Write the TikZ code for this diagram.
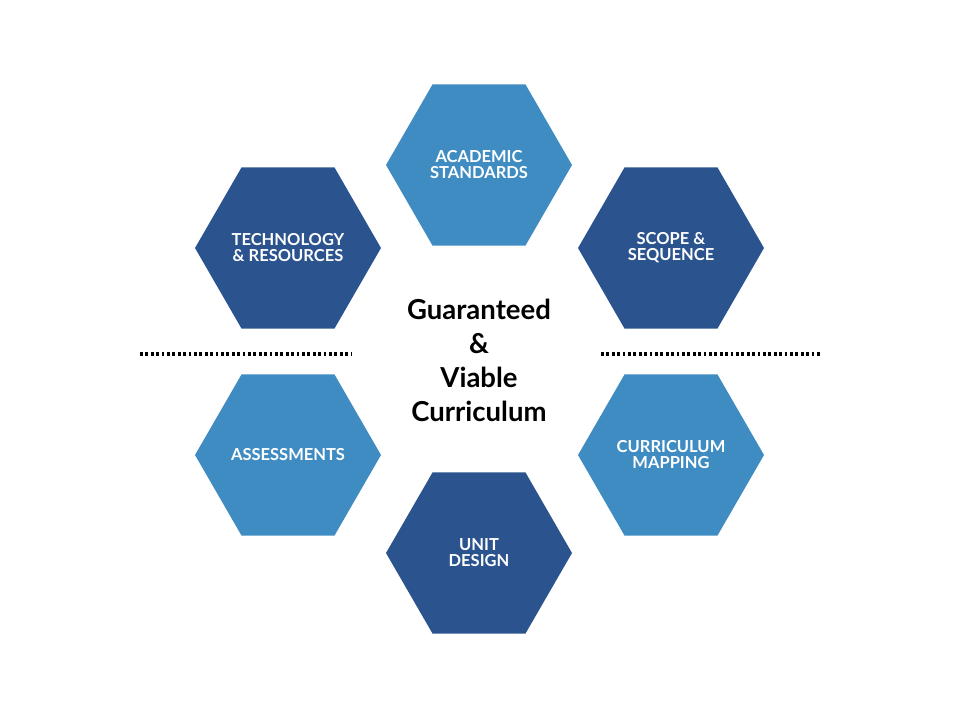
\documentclass[tikz,border=0pt]{standalone}
\usepackage{fontspec}
\setmainfont{Lato}
\usetikzlibrary{shapes.geometric}
\definecolor{hd}{HTML}{2B538D}
\definecolor{hl}{HTML}{3F8CC2}
\begin{document}
\begin{tikzpicture}[x=1pt,y=-1pt,
  hexa/.style={regular polygon,regular polygon sides=6,minimum size=186pt,inner sep=0pt,text=white,font=\bfseries\fontsize{16.5}{16}\selectfont,align=center},
  hexdark/.style={hexa,fill=hd},
  hexlight/.style={hexa,fill=hl},
  sep/.style={line width=3.4pt,dash pattern=on 2.8pt off 2.6pt}]
\useasboundingbox (0,0) rectangle (960,720);
\node[hexlight] (A) at (479,165) {ACADEMIC\\STANDARDS};
\node[hexdark] (T) at (288,248) {TECHNOLOGY\\\& RESOURCES};
\node[hexdark] (S) at (671,248) {SCOPE \&\\SEQUENCE};
\node[hexlight] (X) at (288,455) {ASSESSMENTS};
\node[hexlight] (M) at (671,455) {CURRICULUM\\MAPPING};
\node[hexdark] (U) at (479,553) {UNIT\\DESIGN};
\node[font=\bfseries\fontsize{27.5}{34}\selectfont,align=center] (C) at (479,360) {Guaranteed\\\&\\Viable\\Curriculum};
\coordinate (l1) at (140,354); \coordinate (l2) at (352,354);
\coordinate (r1) at (601,354); \coordinate (r2) at (821,354);
\draw[sep] (l1) -- (l2);
\draw[sep] (r1) -- (r2);
\end{tikzpicture}
\end{document}
